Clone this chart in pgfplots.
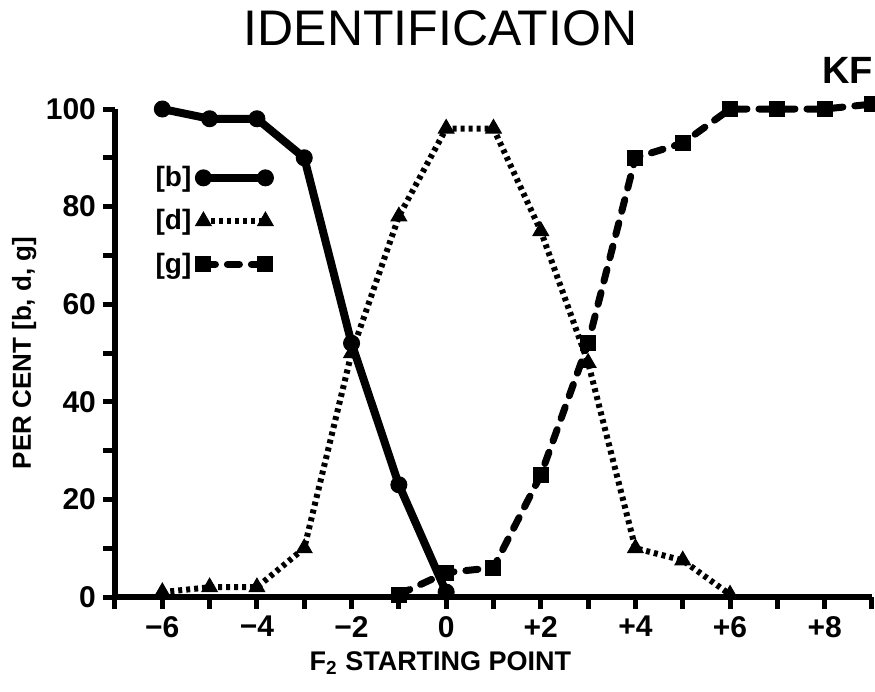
\documentclass[border=0pt]{standalone}
\usepackage{pgfplots}
\pgfplotsset{compat=1.18}
\usepackage{fontspec}
\setmainfont{Liberation Sans}

% identification curves, percent per F2 starting point
\pgfplotstableread{
x   b
-6  100
-5  98
-4  98
-3  90
-2  52
-1  23
0   1
}\tabB
\pgfplotstableread{
x   d
-6  1
-5  2
-4  2
-3  10
-2  50
-1  78
0   96
1   96
2   75
3   48
4   10
5   7.5
6   0.5
}\tabD
\pgfplotstableread{
x   g
-1  0.5
0   5
1   6
2   25
3   52
4   90
5   93
6   100
7   100
8   100
9   101
}\tabG

\begin{document}
\begin{tikzpicture}
\useasboundingbox (-57.5pt,-47.5pt) rectangle (380pt,298.5pt);
\begin{axis}[
    at={(0pt,0pt)}, anchor=south west,
    scale only axis, width=378.5pt, height=244pt,
    xmin=-7, xmax=9, ymin=0, ymax=100,
    clip=false,
    axis x line=bottom, axis y line=left,
    axis line style={line width=3pt, -, black},
    tick align=outside,
    major tick length=6pt, minor tick length=6pt,
    tick style={line width=2.5pt, black},
    xtick={-6,-4,...,8},
    xticklabels={−6,−4,−2,0,+2,+4,+6,+8},
    minor xtick={-7,-5,...,9},
    ytick={0,20,...,100},
    minor ytick={10,30,...,90},
    /pgf/number format/assume math mode=true,
    tick label style={font=\bfseries\fontsize{15}{15}\selectfont},
    title={IDENTIFICATION},
    title style={at={(axis description cs:0.43,1.141)}, anchor=center,
                 font=\fontsize{25}{25}\selectfont},
    xlabel={F\textsubscript{2} STARTING POINT},
    xlabel style={at={(axis description cs:0.43,-0.135)}, anchor=center,
                  font=\bfseries\fontsize{13.5}{13.5}\selectfont},
    ylabel={PER CENT [b, d, g]},
    ylabel style={at={(axis description cs:-0.12,0.5)}, anchor=center,
                  font=\bfseries\fontsize{13}{13}\selectfont},
    legend style={at={(axis description cs:0.04,0.9)}, anchor=north west,
                  draw=none, fill=none, row sep=6pt,
                  font=\bfseries\fontsize{14}{14}\selectfont},
    legend plot pos=right,
    legend cell align=left,
    legend image code/.code={\draw[#1] plot coordinates {(8pt,0pt) (39pt,0pt)};},
]
\addplot[black, line width=4pt, mark=*, mark size=4pt,
         mark options={solid, line width=0.5pt}] table[x=x, y=b] {\tabB};
\addlegendentry{{[b]}}
\addplot[black, line width=3pt, dash pattern=on 2pt off 2pt,
         mark=triangle*, mark size=4.5pt, mark options={solid, line width=0.5pt}]
         table[x=x, y=d] {\tabD};
\addlegendentry{{[d]}}
\addplot[black, line width=3.5pt, line cap=round, dash pattern=on 6pt off 6pt,
         mark=square*, mark size=3.5pt, mark options={solid, line width=1pt}]
         table[x=x, y=g] {\tabG};
\addlegendentry{{[g]}}
\node[font=\bfseries\fontsize{19}{19}\selectfont]
     at (axis description cs:0.968,1.08) {KF};
\end{axis}
\end{tikzpicture}
\end{document}
